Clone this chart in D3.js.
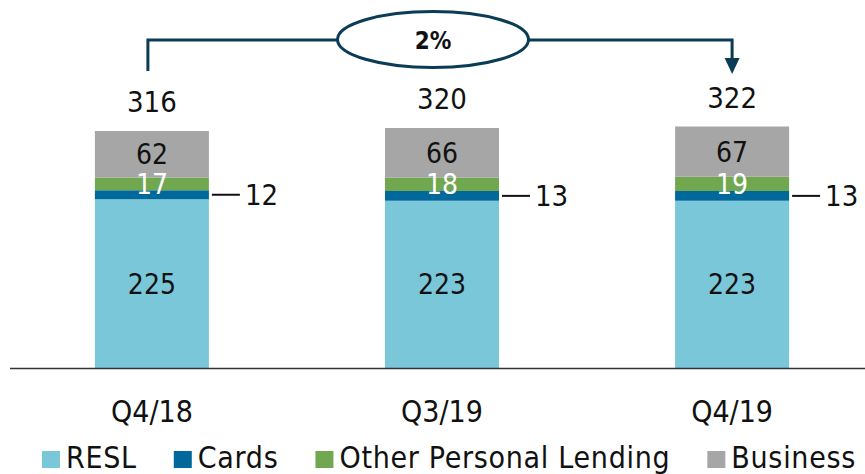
<!DOCTYPE html>
<html>
  <head>
    <meta charset="UTF-8" />
    <style>
      body {
        margin: 0;
        background: #fff;
      }
      svg text {
        font-family: "DejaVu Sans Condensed", "DejaVu Sans", sans-serif;
        font-stretch: condensed;
      }
    </style>
  </head>
  <body>
    <svg></svg>
    <script src="https://d3js.org/d3.v7.min.js"></script>
    <script>
      let width = 865,
        height = 474;

      // data
      const categories = ["Q4/18", "Q3/19", "Q4/19"];
      const seriesNames = ["RESL", "Cards", "Other Personal Lending", "Business"];
      const resl = [225, 223, 223];
      const cards = [12, 13, 13];
      const otherLending = [17, 18, 19];
      const business = [62, 66, 67];
      const totals = [316, 320, 322];
      const growthLabel = "2%";

      const colors = ["#7ac7da", "#00689a", "#71a84f", "#a6a6a6"];
      const labelColors = ["#111", null, "#fff", "#111"];

      let svg = d3
        .select("svg")
        .attr("width", width)
        .attr("height", height);

      // table for d3.stack
      let table = categories.map((c, i) => ({
        cat: c,
        RESL: resl[i],
        Cards: cards[i],
        "Other Personal Lending": otherLending[i],
        Business: business[i],
      }));

      let stacked = d3.stack().keys(seriesNames)(table);

      let x = d3
        .scaleBand()
        .domain(categories)
        .range([7, 877])
        .paddingInner(0.607)
        .paddingOuter(0.303);

      let y = d3.scaleLinear().domain([0, 330]).range([368, 120.5]);

      let bw = x.bandwidth();

      // bars
      let layers = svg
        .append("g")
        .selectAll("g")
        .data(stacked)
        .enter()
        .append("g")
        .attr("fill", (d, i) => colors[i]);

      layers
        .selectAll("rect")
        .data((d) => d)
        .enter()
        .append("rect")
        .attr("x", (d) => x(d.data.cat))
        .attr("y", (d) => y(d[1]))
        .attr("width", bw)
        .attr("height", (d) => y(d[0]) - y(d[1]));

      // labels inside segments
      stacked.forEach(function (layer, si) {
        if (labelColors[si] == null) return;
        svg
          .append("g")
          .selectAll("text")
          .data(layer)
          .enter()
          .append("text")
          .attr("x", (d) => x(d.data.cat) + bw / 2)
          .attr("y", (d) => (y(d[0]) + y(d[1])) / 2)
          .attr("dy", "0.36em")
          .attr("text-anchor", "middle")
          .attr("font-size", 28)
          .attr("fill", labelColors[si])
          .text((d) => d[1] - d[0]);
      });

      // cards value sits outside, with a little dash
      let cardsLayer = stacked[1];
      let cardsLab = svg.append("g").selectAll("g").data(cardsLayer).enter().append("g");
      cardsLab
        .append("line")
        .attr("x1", (d) => x(d.data.cat) + bw + 3)
        .attr("x2", (d) => x(d.data.cat) + bw + 31)
        .attr("y1", (d) => (y(d[0]) + y(d[1])) / 2)
        .attr("y2", (d) => (y(d[0]) + y(d[1])) / 2)
        .attr("stroke", "#111")
        .attr("stroke-width", 2);
      cardsLab
        .append("text")
        .attr("x", (d) => x(d.data.cat) + bw + 36)
        .attr("y", (d) => (y(d[0]) + y(d[1])) / 2)
        .attr("dy", "0.36em")
        .attr("font-size", 29)
        .attr("fill", "#111")
        .text((d) => d[1] - d[0]);

      // totals
      svg
        .append("g")
        .selectAll("text")
        .data(categories)
        .enter()
        .append("text")
        .attr("x", (d) => x(d) + bw / 2)
        .attr("y", (d, i) => y(totals[i]) - 19)
        .attr("text-anchor", "middle")
        .attr("font-size", 29)
        .attr("fill", "#111")
        .text((d, i) => totals[i]);

      // baseline
      svg
        .append("line")
        .attr("x1", 10)
        .attr("x2", width)
        .attr("y1", y(0) + 0.5)
        .attr("y2", y(0) + 0.5)
        .attr("stroke", "#333")
        .attr("stroke-width", 1.6);

      // category labels
      let xAxis = svg
        .append("g")
        .attr("transform", "translate(0," + y(0) + ")")
        .call(d3.axisBottom(x).tickSize(0).tickPadding(0));
      xAxis.select(".domain").remove();
      xAxis
        .selectAll("text")
        .attr("font-size", 30)
        .attr("fill", "#111")
        .attr("dy", null)
        .attr("y", 54)
        .style("font-family", null);

      // growth bracket
      let bracketColor = "#0b3c55";
      let yb = 40;
      let x0 = x(categories[0]) + bw / 2 - 4;
      let x2 = x(categories[2]) + bw / 2;
      let ell = { cx: 433, cy: 39.5, rx: 95.5, ry: 28 };

      svg
        .append("path")
        .attr(
          "d",
          "M" + x0 + ",71V" + yb + "H" + (ell.cx - ell.rx) +
            "M" + (ell.cx + ell.rx) + "," + yb + "H" + x2 + "V59"
        )
        .attr("fill", "none")
        .attr("stroke", bracketColor)
        .attr("stroke-width", 3);

      svg
        .append("path")
        .attr("d", "M" + (x2 - 7.5) + ",58L" + (x2 + 7.5) + ",58L" + x2 + ",74Z")
        .attr("fill", bracketColor);

      svg
        .append("ellipse")
        .attr("cx", ell.cx)
        .attr("cy", ell.cy)
        .attr("rx", ell.rx)
        .attr("ry", ell.ry)
        .attr("fill", "#fff")
        .attr("stroke", bracketColor)
        .attr("stroke-width", 3);

      svg
        .append("text")
        .attr("x", ell.cx)
        .attr("y", 49)
        .attr("text-anchor", "middle")
        .attr("font-size", 24)
        .attr("font-weight", "bold")
        .attr("fill", "#111")
        .text(growthLabel);

      // legend
      let legend = svg.append("g").attr("transform", "translate(42,468)");
      let lx = 0;
      seriesNames.forEach(function (name, i) {
        let item = legend.append("g").attr("transform", "translate(" + lx + ",0)");
        item
          .append("rect")
          .attr("x", 0)
          .attr("y", -17)
          .attr("width", 18)
          .attr("height", 17)
          .attr("fill", colors[i]);
        let t = item
          .append("text")
          .attr("x", 24)
          .attr("y", 0)
          .attr("font-size", 30)
          .attr("letter-spacing", 0.7)
          .attr("fill", "#111")
          .text(name);
        lx += 24 + t.node().getComputedTextLength() + 37;
      });
    </script>
  </body>
</html>
